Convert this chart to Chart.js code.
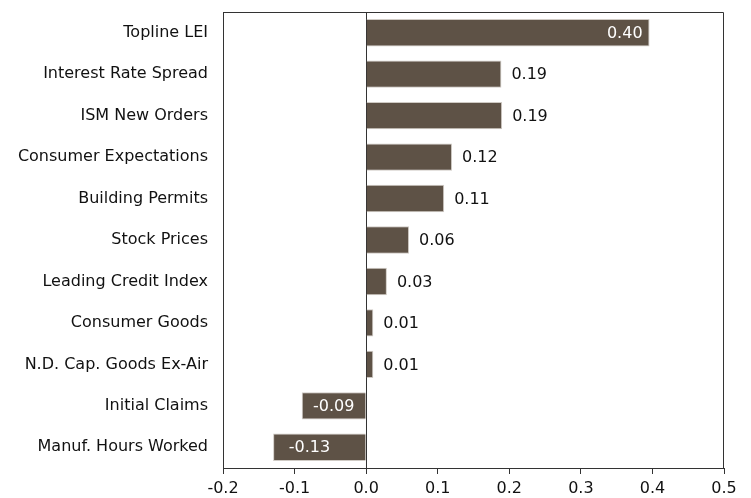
<!DOCTYPE html>
<html>
<head>
<meta charset="utf-8">
<script src="https://cdn.jsdelivr.net/npm/chart.js@4.4.0/dist/chart.umd.min.js"></script>
<style>
html,body{margin:0;padding:0;background:#fff;}
#wrap{width:751px;height:498px;}
</style>
</head>
<body>
<div id="wrap"><canvas id="c" width="751" height="498"></canvas></div>
<script>
const categories = ["Topline LEI","Interest Rate Spread","ISM New Orders","Consumer Expectations","Building Permits","Stock Prices","Leading Credit Index","Consumer Goods","N.D. Cap. Goods Ex-Air","Initial Claims","Manuf. Hours Worked"];
const values = [0.396, 0.189, 0.19, 0.12, 0.109, 0.06, 0.029, 0.01, 0.01, -0.09, -0.13];
const xTicks = [-0.2,-0.1,0.0,0.1,0.2,0.3,0.4,0.5];

const FONT = "'DejaVu Sans', sans-serif";
const BAR = '#5e5246';

const boxPlugin = {
  id: 'box',
  afterDraw(chart) {
    const {ctx, chartArea: a} = chart;
    ctx.save();
    ctx.strokeStyle = '#333';
    ctx.lineWidth = 1;
    ctx.beginPath();
    ctx.moveTo(a.left + 0.5, a.bottom);
    ctx.lineTo(a.left + 0.5, a.top + 0.5);
    ctx.lineTo(a.right - 0.5, a.top + 0.5);
    ctx.lineTo(a.right - 0.5, a.bottom);
    ctx.stroke();
    ctx.restore();
  }
};

const labelPlugin = {
  id: 'vals',
  afterDatasetsDraw(chart) {
    const {ctx} = chart;
    const meta = chart.getDatasetMeta(0);
    ctx.save();
    ctx.font = "16px " + FONT;
    ctx.textBaseline = 'middle';
    meta.data.forEach((bar, i) => {
      const v = values[i];
      const txt = v.toFixed(2);
      if (v < 0) {
        ctx.fillStyle = '#fff';
        ctx.textAlign = 'center';
        const cx = (bar.x + bar.base) / 2 - 10 * Math.max(0, (Math.abs(v) - 0.09) / 0.04);
        ctx.fillText(txt, cx, bar.y + 1);
      } else if (v > 0.3) {
        ctx.fillStyle = '#fff';
        ctx.textAlign = 'right';
        ctx.fillText(txt, bar.x - 7, bar.y + 1);
      } else {
        ctx.fillStyle = '#111';
        ctx.textAlign = 'left';
        ctx.fillText(txt, bar.x + 10, bar.y + 1);
      }
    });
    ctx.restore();
  }
};

new Chart(document.getElementById('c'), {
  type: 'bar',
  data: {
    labels: categories,
    datasets: [{
      data: values,
      backgroundColor: BAR,
      borderColor: '#cfcac4',
      borderWidth: 1,
      borderSkipped: 'start',
      categoryPercentage: 1,
      barPercentage: 0.66
    }]
  },
  options: {
    indexAxis: 'y',
    responsive: false,
    animation: false,
    devicePixelRatio: 1,
    layout: {padding: {top: 12, right: 27, bottom: 0, left: 0}},
    plugins: {legend: {display: false}, tooltip: {enabled: false}},
    scales: {
      x: {
        type: 'linear',
        min: -0.2, max: 0.5,
        afterBuildTicks(axis) { axis.ticks = xTicks.map(v => ({value: v})); },
        border: {display: true, color: '#333', width: 1},
        grid: {
          drawOnChartArea: true,
          color: c => (c.tick && Math.abs(c.tick.value) < 1e-9) ? '#333' : 'rgba(0,0,0,0)',
          tickColor: '#333',
          tickLength: 6
        },
        ticks: {
          color: '#111',
          font: {family: FONT, size: 16},
          padding: 5,
          callback: v => Number(v).toFixed(1)
        },
        afterFit(axis) { axis.height = 30; axis.paddingLeft = 0; axis.paddingRight = 0; }
      },
      y: {
        border: {display: true, color: '#333', width: 1},
        grid: {display: false},
        ticks: {
          color: '#111',
          font: {family: FONT, size: 16},
          padding: 7
        },
        afterFit(axis) { axis.width = 223; axis.paddingTop = 0; axis.paddingBottom = 0; }
      }
    }
  },
  plugins: [boxPlugin, labelPlugin]
});
</script>
</body>
</html>
